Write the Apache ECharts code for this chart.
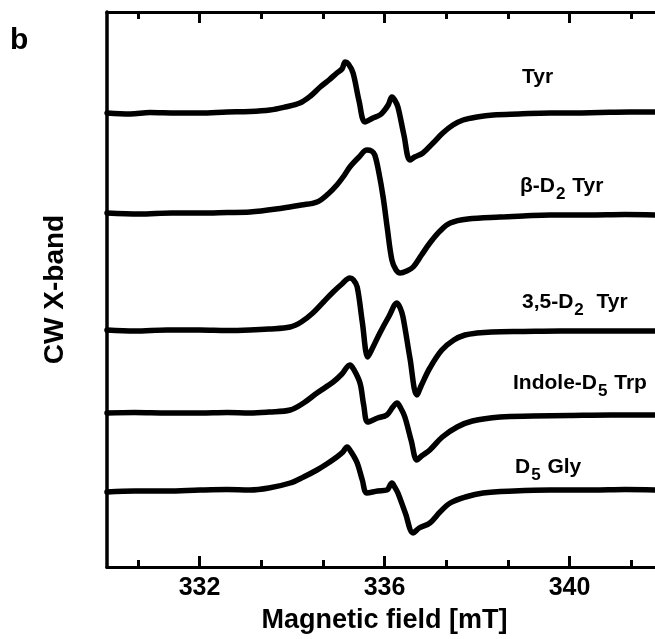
<!DOCTYPE html>
<html>
<head>
<meta charset="utf-8">
<style>
  html, body { margin: 0; padding: 0; background: #fff; }
  #chart { width: 655px; height: 639px; }
</style>
<script src="https://cdn.jsdelivr.net/npm/echarts@6/dist/echarts.min.js"></script>
</head>
<body>
<div id="chart"></div>
<script>
// CW X-band EPR spectra, stacked with vertical offsets
var fieldMin = 330;
var fieldMax = 342;
var majorTicks = [332, 336, 340];
var minorTicks = [330.67, 333.33, 334.67, 337.33, 338.67, 341.33];

var names = ['Tyr', 'β-D2 Tyr', '3,5-D2 Tyr', 'Indole-D5 Trp', 'D5 Gly'];
var offsets = [454, 354, 237, 154, 77];

// [field mT, signal a.u.]
var tyr = [
  [330.00, 0], [330.5, -1], [330.93, 0.5], [331.5, 0], [332.01, 0], [332.6, 1], [333.09, 1.5],
  [333.52, 3], [333.85, 6], [334.17, 10], [334.4, 17], [334.61, 26], [334.8, 33], [334.97, 40],
  [335.08, 44], [335.15, 51], [335.22, 49], [335.32, 40], [335.45, 12], [335.58, -9],
  [335.75, -5], [335.9, -2], [335.97, 1], [336.08, 8], [336.16, 16], [336.22, 13],
  [336.29, 6], [336.42, -22], [336.55, -47], [336.65, -44], [336.83, -40], [337.05, -30],
  [337.26, -20], [337.48, -12], [337.70, -7], [338.0, -4], [338.35, -2], [338.9, -1],
  [339.58, 0], [340.1, 0], [340.66, 0.5], [341.3, 1], [341.96, 1]
];
var bd2tyr = [
  [330.00, 0], [330.7, -1], [331.4, 0], [332.01, 0], [332.6, 0.5], [333.09, 1], [333.81, 5],
  [334.2, 8], [334.54, 11], [334.78, 19], [334.97, 28], [335.12, 37], [335.25, 46],
  [335.45, 56], [335.62, 63], [335.72, 62], [335.79, 58], [335.88, 40], [335.97, 16],
  [336.06, -15], [336.16, -47], [336.25, -57], [336.34, -60], [336.48, -58], [336.62, -54],
  [336.8, -42], [336.98, -30], [337.2, -18], [337.42, -10], [337.8, -6], [338.50, -4],
  [339.0, -3], [339.58, -2], [340.4, -2], [341.2, -1.5], [341.96, -2]
];
var d35tyr = [
  [330.00, 0], [330.6, -1], [331.3, 0], [332.01, 0], [332.6, -0.5], [333.09, 0], [333.5, 1],
  [333.96, 3], [334.2, 8], [334.45, 17], [334.68, 28], [334.89, 38], [335.08, 46], [335.25, 52],
  [335.33, 50], [335.41, 43], [335.52, 8], [335.64, -27], [335.72, -20], [335.90, -3],
  [336.1, 14], [336.27, 27], [336.34, 22], [336.40, 13], [336.55, -28], [336.70, -65],
  [336.8, -55], [336.98, -38], [337.24, -20], [337.5, -10], [337.74, -5], [338.0, -3],
  [338.32, -2], [339.0, -1.5], [339.8, -1], [340.7, -1], [341.96, -1]
];
var d5trp = [
  [330.00, 0], [330.6, 0.5], [331.3, 0], [332.01, 0], [332.6, 0.5], [333.09, 0], [333.5, 1],
  [333.96, 3], [334.25, 10], [334.54, 20], [334.89, 31], [335.08, 39], [335.25, 48],
  [335.33, 44], [335.47, 30], [335.55, 8], [335.64, -9], [335.85, -5], [336.05, -2],
  [336.18, 6], [336.27, 10], [336.35, 5], [336.44, -4], [336.58, -28], [336.70, -47],
  [336.8, -43], [336.98, -37], [337.25, -24], [337.57, -14], [337.9, -8], [338.50, -4],
  [339.2, -3], [340.0, -2.5], [340.9, -2], [341.96, -2]
];
var d5gly = [
  [330.00, -2], [330.6, -1], [331.3, -1], [332.01, 0], [332.6, 0.5], [333.09, 0], [333.5, 2],
  [333.96, 7], [334.25, 13], [334.54, 20], [334.75, 26], [334.97, 33], [335.1, 38],
  [335.19, 43], [335.28, 38], [335.41, 27], [335.52, 10], [335.62, -3], [335.85, -1],
  [336.05, 0], [336.16, 7], [336.22, 3], [336.29, -3], [336.45, -23], [336.62, -43],
  [336.75, -38], [336.98, -33], [337.2, -22], [337.42, -13], [337.75, -7], [338.13, -3],
  [338.8, -1], [339.58, 0], [340.5, 0], [341.2, 0.5], [341.96, 0]
];
var spectra = [tyr, bd2tyr, d35tyr, d5trp, d5gly];

var chart = echarts.init(document.getElementById('chart'));
var FONT = 'Liberation Sans, Arial';

function axisBase(pos, vals, len, showLabel) {
  return {
    type: 'value',
    position: pos,
    min: fieldMin,
    max: fieldMax,
    axisLine: { show: true, onZero: false, lineStyle: { color: '#000', width: 3 } },
    axisTick: { show: true, inside: true, length: len, customValues: vals, lineStyle: { color: '#000', width: 3 } },
    axisLabel: {
      show: true, customValues: vals, margin: 9,
      color: showLabel ? '#000' : 'rgba(0,0,0,0)',
      fontSize: showLabel ? 25 : 8, fontWeight: 'bold', fontFamily: FONT
    },
    splitLine: { show: false }
  };
}

var xAxes = [
  axisBase('bottom', majorTicks, 11, true),
  axisBase('bottom', minorTicks, 7, false),
  axisBase('top', majorTicks, 11, false),
  axisBase('top', minorTicks, 7, false)
];
xAxes[0].name = 'Magnetic field [mT]';
xAxes[0].nameLocation = 'middle';
xAxes[0].nameGap = 40;
xAxes[0].nameTextStyle = { color: '#000', fontSize: 27, fontWeight: 'bold', fontFamily: FONT };

var rich = {
  m: { fontSize: 21, fontWeight: 'bold', fontFamily: FONT, color: '#000' },
  s: { fontSize: 17, fontWeight: 'bold', fontFamily: FONT, color: '#000', padding: [15, 1, 0, 1] }
};
function tag(x, y, str) {
  return { type: 'text', left: x, top: y, style: { text: str, rich: rich, fill: '#000' } };
}

var option = {
  animation: false,
  grid: { left: 107, top: 12, width: 555, height: 555, outerBoundsMode: 'none' },
  xAxis: xAxes,
  yAxis: {
    type: 'value',
    min: 0,
    max: 555,
    name: 'CW X-band',
    nameLocation: 'middle',
    nameGap: 38,
    nameTextStyle: { color: '#000', fontSize: 28, fontWeight: 'bold', fontFamily: FONT },
    axisLine: { show: true, lineStyle: { color: '#000', width: 3.5 } },
    axisTick: { show: false },
    axisLabel: { show: false },
    splitLine: { show: false }
  },
  graphic: [
    { type: 'text', left: 10, top: 26, style: { text: 'b', fontSize: 30, fontWeight: 'bold', fontFamily: FONT, fill: '#000' } },
    tag(522, 67, '{m|Tyr}'),
    tag(520, 176, '{m|β-D}{s|2}{m| Tyr}'),
    tag(522, 292, '{m|3,5-D}{s|2}{m|  Tyr}'),
    tag(513, 373, '{m|Indole-D}{s|5}{m| Trp}'),
    tag(515, 457, '{m|D}{s|5}{m| Gly}')
  ],
  series: spectra.map(function (d, i) {
    return {
      name: names[i],
      type: 'line',
      xAxisIndex: 0,
      showSymbol: false,
      smooth: 0.35,
      data: d.map(function (p) { return [p[0], p[1] + offsets[i]]; }),
      lineStyle: { color: '#000', width: 5.5, join: 'round', cap: 'round' }
    };
  })
};

chart.setOption(option);
</script>
</body>
</html>
